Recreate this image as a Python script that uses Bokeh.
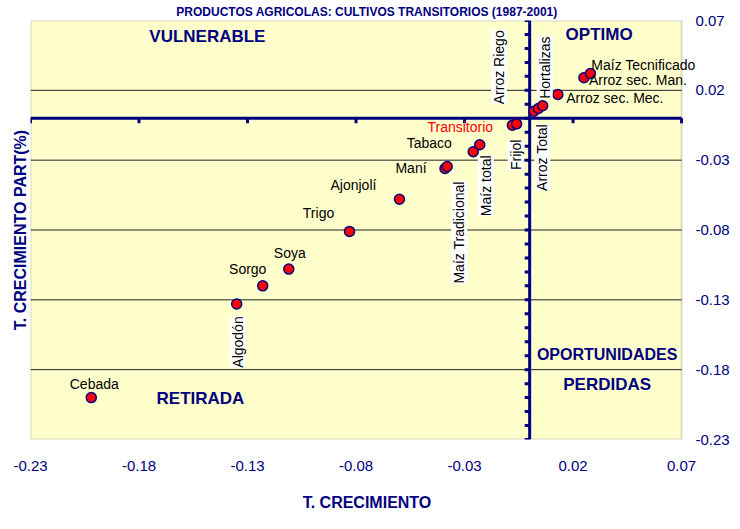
import numpy as np
from bokeh.plotting import figure
from bokeh.models import (LinearAxis, FixedTicker, Span, ColumnDataSource, Range1d,
                          Label, BoxAnnotation)
from bokeh.embed import file_html
from bokeh.resources import INLINE

# ---------------- data ----------------
cultivos = ["Cebada", "Algodón", "Sorgo", "Soya", "Trigo", "Ajonjolí", "Maní",
            "Maíz Tradicional", "Tabaco", "Maíz total", "Transitorio", "Frijol",
            "Arroz Riego", "Arroz Total", "Hortalizas", "Arroz sec. Mec.",
            "Arroz sec. Man.", "Maíz Tecnificado"]
t_crecimiento = [-0.202, -0.135, -0.123, -0.111, -0.083, -0.060, -0.039,
                 -0.038, -0.026, -0.023, -0.008, -0.006,
                 0.002, 0.004, 0.006, 0.013, 0.025, 0.028]
t_crecimiento_part = [-0.200, -0.133, -0.120, -0.108, -0.081, -0.058, -0.036,
                      -0.0345, -0.024, -0.019, -0.005, -0.004,
                      0.005, 0.007, 0.009, 0.017, 0.029, 0.032]

tick_values = [-0.23, -0.18, -0.13, -0.08, -0.03, 0.02, 0.07]
tick_labels = ["-0.23", "-0.18", "-0.13", "-0.08", "-0.03", "0.02", "0.07"]
grid_values = [0.02, -0.03, -0.08, -0.13, -0.18]
axis_min, axis_max = -0.23, 0.07

quadrants = ["VULNERABLE", "OPTIMO", "OPORTUNIDADES", "PERDIDAS", "RETIRADA"]
quadrant_x = [-0.1485, 0.032, 0.0357, 0.0357, -0.1517]
quadrant_y = [0.0586, 0.060, -0.1688, -0.1909, -0.2008]

title_text = "PRODUCTOS AGRICOLAS: CULTIVOS TRANSITORIOS (1987-2001)"

# label placement (screen offsets in px: dx right, dy down) and style kind
label_layout = {
    "Cebada": (3, -14, "h"),
    "Algodón": (1, 38, "v"),
    "Sorgo": (-15, -17, "h"),
    "Soya": (1, -16, "h"),
    "Trigo": (-31, -18, "h"),
    "Ajonjolí": (-46, -14, "h"),
    "Maní": (-34, -1, "h"),
    "Maíz Tradicional": (12, 66, "v"),
    "Tabaco": (-44, -9, "h"),
    "Maíz total": (6, 41, "v"),
    "Transitorio": (-52, 2, "r"),
    "Frijol": (-1, 31, "v"),
    "Arroz Riego": (-35, -44, "v"),
    "Arroz Total": (4, 49, "v"),
    "Hortalizas": (2, -38, "v"),
    "Arroz sec. Mec.": (57, 3, "h"),
    "Arroz sec. Man.": (54, 2, "h"),
    "Maíz Tecnificado": (53, -9, "h"),
}

NAVY = "#000080"
FONT = "Liberation Sans"

# frame extends a little past 0.07 so that labels may overhang the plot box
p = figure(width=732, height=513,
           x_range=Range1d(axis_min, 0.0801), y_range=Range1d(axis_min, axis_max),
           output_backend="svg", toolbar_location=None,
           x_axis_location=None, y_axis_location=None,
           min_border=0, min_border_left=30,
           background_fill_color="white", border_fill_color="white",
           outline_line_color=None)

p.title.text = title_text
p.title.text_font = FONT
p.title.text_font_size = "12px"
p.title.text_font_style = "bold"
p.title.text_color = NAVY
p.title.align = "center"
p.title.standoff = 4

p.xgrid.visible = False
p.ygrid.visible = False

# plot area box (lowest level)
p.add_layout(BoxAnnotation(left=axis_min, right=axis_max, bottom=axis_min, top=axis_max,
                           fill_color="#FFFFCC", fill_alpha=1, line_color="#808080",
                           line_width=2, level="image"))

# horizontal grid lines
p.segment(x0=axis_min, x1=axis_max, y0=grid_values, y1=grid_values,
          line_color="#202020", line_width=1, level="underlay")

overrides = {v: l for v, l in zip(tick_values, tick_labels)}

xa = LinearAxis(ticker=FixedTicker(ticks=tick_values), major_label_overrides=overrides,
                axis_line_color=None, major_tick_line_color=None, minor_tick_line_color=None,
                major_tick_out=0, major_tick_in=0, major_label_standoff=21,
                major_label_text_font=FONT, major_label_text_font_size="15px",
                major_label_text_color=NAVY,
                axis_label="T. CRECIMIENTO", axis_label_text_font=FONT,
                axis_label_text_font_style="bold", axis_label_text_font_size="16px",
                axis_label_text_color=NAVY, axis_label_standoff=20)
p.add_layout(xa, "below")

ya_r = LinearAxis(ticker=FixedTicker(ticks=tick_values), major_label_overrides=overrides,
                  axis_line_color=None, major_tick_line_color=None, minor_tick_line_color=None,
                  major_tick_out=0, major_tick_in=0, major_label_standoff=-8,
                  axis_label_standoff=0,
                  major_label_text_font=FONT, major_label_text_font_size="15px",
                  major_label_text_color=NAVY)
p.add_layout(ya_r, "right")

ya_l = LinearAxis(ticker=FixedTicker(ticks=[]), axis_line_color=None,
                  major_tick_line_color=None, minor_tick_line_color=None,
                  major_tick_out=0, major_tick_in=0, major_label_standoff=0,
                  axis_label="T. CRECIMIENTO PART(%)", axis_label_text_font=FONT,
                  axis_label_text_font_style="bold", axis_label_text_font_size="16px",
                  axis_label_text_color=NAVY, axis_label_standoff=2)
p.add_layout(ya_l, "left")

# axes crossing at zero
p.segment(x0=axis_min, x1=axis_max, y0=0, y1=0, line_color=NAVY, line_width=3,
          level="underlay")
p.add_layout(Span(location=0, dimension="height", line_color=NAVY, line_width=3,
                  level="underlay"))

vticks = [round(axis_min + 0.01 * i, 2) for i in range(31)]
p.ray(x=0, y=vticks, length=5, angle=np.pi, length_units="screen",
      line_color=NAVY, line_width=3, level="underlay")
p.ray(x=tick_values, y=0, length=5, angle=-np.pi / 2, length_units="screen",
      line_color=NAVY, line_width=3, level="underlay")

# points
src = ColumnDataSource(dict(x=t_crecimiento, y=t_crecimiento_part, name=cultivos))
p.scatter(x="x", y="y", source=src, size=10, fill_color="#FF0000",
          line_color=NAVY, line_width=1.5)

# point labels
for name, xv, yv in zip(cultivos, t_crecimiento, t_crecimiento_part):
    dx, dy, kind = label_layout[name]
    kw = dict(x=xv, y=yv, text=name, x_offset=dx, y_offset=-dy,
              text_font=FONT, text_font_size="14px",
              text_align="center", text_baseline="middle",
              text_color="#FF0000" if kind == "r" else "black")
    if kind == "v":
        kw.update(angle=np.pi / 2, background_fill_color="white")
    p.add_layout(Label(**kw))

for q, qx, qy in zip(quadrants, quadrant_x, quadrant_y):
    p.add_layout(Label(x=qx, y=qy, text=q, text_font=FONT, text_font_style="bold",
                       text_font_size="16px" if q == "OPORTUNIDADES" else "17px",
                       text_color=NAVY, text_align="center", text_baseline="middle"))

open("out.html", "w").write(file_html(p, INLINE))
